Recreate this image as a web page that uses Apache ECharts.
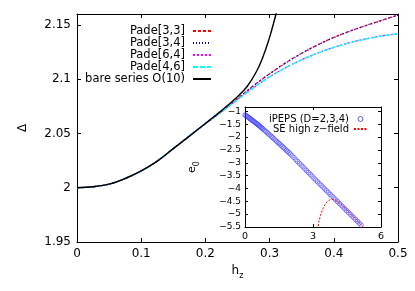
<!DOCTYPE html>
<html><head><meta charset="utf-8">
<script src="https://cdn.jsdelivr.net/npm/echarts@6/dist/echarts.min.js"></script>
<style>html,body{margin:0;padding:0;background:#fff}#c{width:415px;height:291px}</style>
</head><body><div id="c"></div>
<script>
// ---- main panel data (h_z vs Delta) ----
const hPade = [0, 0.025, 0.05, 0.075, 0.1, 0.125, 0.15, 0.175, 0.2, 0.225, 0.25, 0.275, 0.3, 0.325, 0.35, 0.375, 0.4, 0.425, 0.45, 0.475, 0.5];
const pade33 = [2.0, 2.0009, 2.0033, 2.0085, 2.0155, 2.0245, 2.036, 2.0475, 2.0590, 2.0700, 2.0820, 2.0940, 2.1050, 2.1150, 2.1238, 2.1316, 2.1384, 2.1442, 2.1494, 2.1543, 2.159];
const pade34 = [2.0, 2.0009, 2.0033, 2.0085, 2.0155, 2.0245, 2.036, 2.0475, 2.0590, 2.0700, 2.0819, 2.0939, 2.1049, 2.1149, 2.1237, 2.1315, 2.1383, 2.1441, 2.1493, 2.1541, 2.1588];
const pade64 = [2.0, 2.0009, 2.0033, 2.0085, 2.0155, 2.0245, 2.036, 2.0475, 2.0590, 2.0699, 2.0812, 2.0921, 2.1021, 2.1106, 2.1179, 2.1241, 2.1293, 2.1337, 2.1371, 2.1398, 2.1419];
const pade46 = [2.0, 2.0009, 2.0033, 2.0085, 2.0155, 2.0245, 2.036, 2.0475, 2.0590, 2.0699, 2.0811, 2.0920, 2.1020, 2.1105, 2.1178, 2.1240, 2.1292, 2.1336, 2.1370, 2.1397, 2.1418];
const hBare = [0, 0.025, 0.05, 0.075, 0.1, 0.125, 0.15, 0.175, 0.2, 0.225, 0.25, 0.265, 0.28, 0.29, 0.3, 0.305, 0.31, 0.315];
const deltaBare = [2.0, 2.0009, 2.0033, 2.0085, 2.0155, 2.0245, 2.036, 2.0475, 2.0592, 2.0710, 2.0838, 2.0932, 2.1075, 2.121, 2.1385, 2.149, 2.16, 2.172];
const mainXTicks = [0, 0.5, 0.1];     // min, max, step
const mainYTicks = [1.95, 2.16, 0.05];

// ---- inset data (e_0) ----
const xPeps = [0, 0.04, 0.08, 0.12, 0.16, 0.2, 0.24, 0.28, 0.32, 0.36, 0.4, 0.44, 0.48, 0.52, 0.56, 0.6, 0.64, 0.68, 0.72, 0.76, 0.8,
  0.86, 0.92, 0.98, 1.04, 1.1, 1.16, 1.22, 1.28, 1.34, 1.4, 1.46, 1.52, 1.58, 1.64, 1.7, 1.76, 1.82, 1.88, 1.94, 2.0,
  2.08, 2.16, 2.24, 2.32, 2.4, 2.48, 2.56, 2.64, 2.72, 2.8, 2.88, 2.96, 3.04, 3.12, 3.2, 3.28, 3.36, 3.44, 3.52, 3.6,
  3.68, 3.76, 3.84, 3.92, 4.0, 4.08, 4.16, 4.24, 4.32, 4.4, 4.48, 4.56, 4.64, 4.72, 4.8, 4.88, 4.96, 5.04, 5.12];
const ePeps = [-1.14, -1.16, -1.19, -1.21, -1.24, -1.27, -1.29, -1.32, -1.35, -1.37, -1.4, -1.43, -1.46, -1.48, -1.51, -1.54, -1.57, -1.6, -1.63, -1.66, -1.69,
  -1.74, -1.78, -1.83, -1.88, -1.92, -1.97, -2.02, -2.07, -2.12, -2.17, -2.22, -2.26, -2.31, -2.36, -2.41, -2.46, -2.51, -2.56, -2.61, -2.66,
  -2.73, -2.8, -2.88, -2.95, -3.02, -3.09, -3.16, -3.24, -3.31, -3.38, -3.45, -3.52, -3.6, -3.67, -3.74, -3.81, -3.88, -3.95, -4.02, -4.09,
  -4.16, -4.23, -4.3, -4.37, -4.44, -4.51, -4.58, -4.65, -4.72, -4.79, -4.86, -4.93, -5.0, -5.07, -5.14, -5.21, -5.28, -5.35, -5.42];
const xSE = [3.22, 3.25, 3.3, 3.38, 3.46, 3.55, 3.65, 3.75, 3.82, 3.9, 4.0, 4.1, 4.2, 4.3, 4.4, 4.5, 4.6, 4.7, 4.8, 4.9, 5.0, 5.1, 5.2, 5.25];
const eSE = [-5.6, -5.35, -5.15, -4.92, -4.74, -4.6, -4.5, -4.44, -4.42, -4.43, -4.46, -4.52, -4.59, -4.67, -4.76, -4.85, -4.94, -5.03, -5.12, -5.21, -5.3, -5.39, -5.48, -5.53];
const insetXTicks = [0, 6, 3];
const insetYTicks = [-5.5, -0.83, 0.5];

const FONT = 'DejaVu Sans';
function pairs(xs, ys) { return xs.map((x, i) => [x, ys[i]]); }
function isMult(v, step) { const r = v / step; return Math.abs(r - Math.round(r)) < 1e-6; }
function fmtTick(step, minus) {
  return function (v) {
    if (!isMult(v, step)) return '';
    let s = String(Number(v.toFixed(3)));
    if (minus) s = s.replace('-', '\u2212');
    return s;
  };
}
const black = '#000';
function frameAxis(grid, pos, rng, extra) {
  return Object.assign({
    gridIndex: grid, type: 'value', position: pos, min: rng[0], max: rng[1], interval: rng[2],
    axisLine: { show: true, onZero: false, lineStyle: { color: black, width: 1 } },
    axisTick: { show: true, inside: true, length: grid === 0 ? 4 : 3, lineStyle: { color: black, width: 1 } },
    axisLabel: { show: false },
    splitLine: { show: false }, minorTick: { show: false }
  }, extra || {});
}
const subRich = (size, subSize) => ({
  m: { fontFamily: FONT, fontSize: size, lineHeight: size + 1, verticalAlign: 'top', color: black },
  s: { fontFamily: FONT, fontSize: subSize, lineHeight: subSize + 1, padding: [Math.round(size * 0.55), 0, 0, 0], verticalAlign: 'top', color: black }
});
const noSym = { opacity: 0 };

const chart = echarts.init(document.getElementById('c'), null, { renderer: 'canvas' });
const option = {
  animation: false,
  backgroundColor: '#fff',
  textStyle: { fontFamily: FONT },
  grid: [
    { left: 77, top: 14, width: 321, height: 228, outerBoundsMode: 'none', containLabel: false },
    { left: 245, top: 107, width: 136, height: 120, outerBoundsMode: 'none', containLabel: false }
  ],
  xAxis: [
    frameAxis(0, 'bottom', mainXTicks, {
      axisLabel: { show: true, margin: 6, fontFamily: FONT, fontSize: 12, color: black, formatter: fmtTick(0.1, false), hideOverlap: false },
      name: '{m|h}{s|z}', nameLocation: 'middle', nameGap: 22,
      nameTextStyle: { rich: subRich(12, 8) }
    }),
    frameAxis(0, 'top', mainXTicks),
    frameAxis(1, 'bottom', insetXTicks, {
      axisLabel: { show: true, margin: 5, fontFamily: FONT, fontSize: 9.5, color: black, formatter: fmtTick(3, true), hideOverlap: false }
    }),
    frameAxis(1, 'top', insetXTicks)
  ],
  yAxis: [
    frameAxis(0, 'left', mainYTicks, {
      axisLabel: { show: true, margin: 6, fontFamily: FONT, fontSize: 12, color: black, formatter: fmtTick(0.05, false), hideOverlap: false },
      name: '\u0394', nameLocation: 'middle', nameGap: 48,
      nameTextStyle: { fontFamily: FONT, fontSize: 12, color: black }
    }),
    frameAxis(0, 'right', mainYTicks),
    frameAxis(1, 'left', insetYTicks, {
      axisLabel: { show: true, margin: 4, fontFamily: FONT, fontSize: 9, color: black, formatter: fmtTick(0.5, true), hideOverlap: false },
      name: '{m|e}{s|0}', nameLocation: 'middle', nameGap: 46,
      nameTextStyle: { rich: subRich(11, 8) }
    }),
    frameAxis(1, 'right', insetYTicks)
  ],
  legend: [
    {
      data: ['Pade[3,3]', 'Pade[3,4]', 'Pade[6,4]', 'Pade[4,6]', 'bare series O(10)'].map(n => ({ name: n, itemStyle: noSym })),
      orient: 'vertical', align: 'right', right: 203, top: 25, padding: 0,
      itemWidth: 18, itemHeight: 8, itemGap: 0, selectedMode: false,
      itemStyle: noSym,
      textStyle: { fontFamily: FONT, fontSize: 11.5, lineHeight: 11.5, color: black, padding: [0, 3, 0, 0] }
    },
    {
      data: [
        { name: 'iPEPS (D=2,3,4)', icon: 'circle', itemStyle: { color: 'rgba(0,0,0,0)', borderColor: '#3333ff', borderWidth: 0.8, opacity: 1 } },
        { name: 'SE high z\u2212field', itemStyle: noSym }
      ],
      orient: 'vertical', align: 'right', right: 47, top: 114, padding: 0,
      itemWidth: 13, itemHeight: 5, itemGap: 0, selectedMode: false,
      textStyle: { fontFamily: FONT, fontSize: 10, lineHeight: 9.5, color: black, padding: [0, 0, 0, 0] }
    }
  ],
  series: [
    { name: 'Pade[3,3]', type: 'line', xAxisIndex: 0, yAxisIndex: 0, data: pairs(hPade, pade33), symbol: 'none', showSymbol: false, smooth: 0.4,
      lineStyle: { color: '#ff0000', width: 1.3, type: [3, 2] }, itemStyle: { color: '#ff0000' } },
    { name: 'Pade[3,4]', type: 'line', xAxisIndex: 0, yAxisIndex: 0, data: pairs(hPade, pade34), symbol: 'none', showSymbol: false, smooth: 0.4,
      lineStyle: { color: '#0000ff', width: 1.3, type: [1, 2] }, itemStyle: { color: '#0000ff' } },
    { name: 'Pade[6,4]', type: 'line', xAxisIndex: 0, yAxisIndex: 0, data: pairs(hPade, pade64), symbol: 'none', showSymbol: false, smooth: 0.4,
      lineStyle: { color: '#ff00ff', width: 1.3, type: [2, 2] }, itemStyle: { color: '#ff00ff' } },
    { name: 'Pade[4,6]', type: 'line', xAxisIndex: 0, yAxisIndex: 0, data: pairs(hPade, pade46), symbol: 'none', showSymbol: false, smooth: 0.4,
      lineStyle: { color: '#00ffff', width: 1.4, type: [5, 2] }, itemStyle: { color: '#00ffff' } },
    { name: 'bare series O(10)', type: 'line', xAxisIndex: 0, yAxisIndex: 0, data: pairs(hBare, deltaBare), symbol: 'none', showSymbol: false, smooth: 0.4, clip: true,
      lineStyle: { color: black, width: 1.4 }, itemStyle: { color: black } },
    { name: 'iPEPS (D=2,3,4)', type: 'scatter', xAxisIndex: 2, yAxisIndex: 2, data: pairs(xPeps, ePeps), symbol: 'circle', symbolSize: 4.5,
      itemStyle: { color: 'rgba(0,0,0,0)', borderColor: '#3333ff', borderWidth: 0.7 } },
    { name: 'SE high z\u2212field', type: 'line', xAxisIndex: 2, yAxisIndex: 2, data: pairs(xSE, eSE), symbol: 'none', showSymbol: false, smooth: 0.4, clip: true,
      lineStyle: { color: '#ff0000', width: 1, type: [2, 1.5] }, itemStyle: { color: '#ff0000' } }
  ]
};
chart.setOption(option);
</script></body></html>
